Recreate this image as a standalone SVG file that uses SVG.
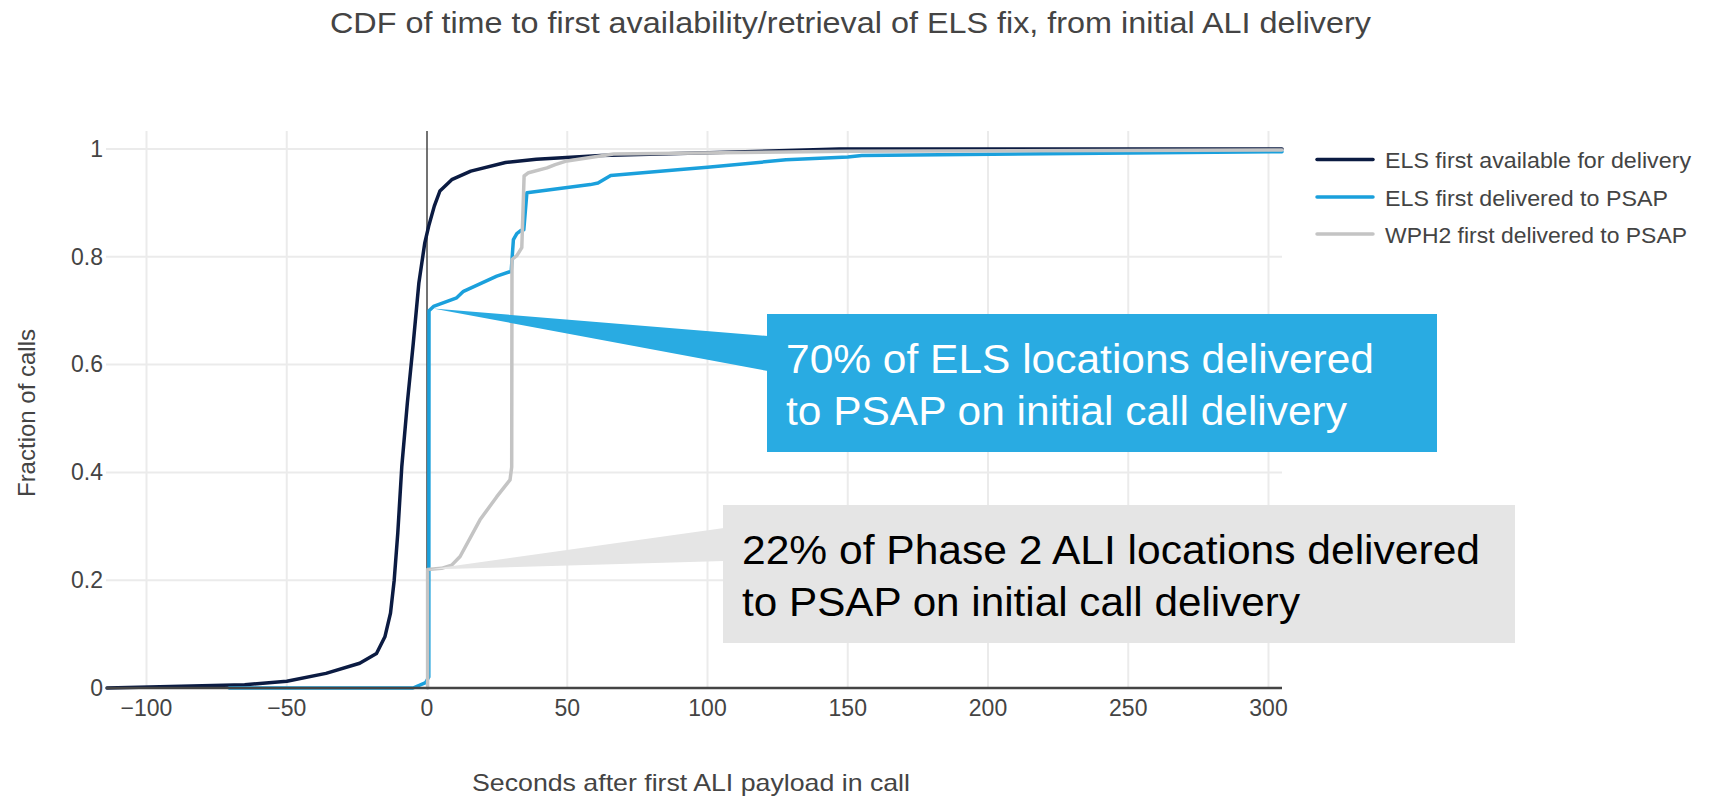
<svg xmlns="http://www.w3.org/2000/svg" width="1709" height="799" viewBox="0 0 1709 799">
<style>
text{font-family:"Liberation Sans",Arial,sans-serif;}
.grid{stroke:#ebebeb;stroke-width:2;fill:none;}
.tick{fill:#444;font-size:23px;}
.ytick{text-anchor:end;}
.xtick{text-anchor:middle;}
.axt{fill:#444;font-size:24px;}
.leg{fill:#444;font-size:22px;}
.cur{fill:none;stroke-width:3.5;stroke-linejoin:round;stroke-linecap:round;}
.dark{stroke:#0b1b42;}
.blue{stroke:#1aa0dc;}
.gray{stroke:#c4c4c4;}
.call{font-size:40px;}
</style>
<rect width="1709" height="799" fill="#ffffff"/>
<g id="title">
<text x="330" y="33" font-size="30" fill="#444" textLength="1041" lengthAdjust="spacingAndGlyphs">CDF of time to first availability/retrieval of ELS fix, from initial ALI delivery</text>
</g>
<g id="grid">
<path class="grid" d="M146.5 131V688M286.75 131V688M567.25 131V688M707.5 131V688M847.75 131V688M988 131V688M1128.25 131V688M1268.5 131V688"/>
<path class="grid" d="M106 580.2H1282M106 472.4H1282M106 364.6H1282M106 256.8H1282M106 149H1282"/>
<line x1="427" y1="131" x2="427" y2="688" stroke="#444" stroke-width="1.5"/>
</g>
<g id="axes">
<g class="tick ytick">
<text x="103" y="696">0</text>
<text x="103" y="588">0.2</text>
<text x="103" y="480">0.4</text>
<text x="103" y="372">0.6</text>
<text x="103" y="265">0.8</text>
<text x="103" y="157">1</text>
</g>
<g class="tick xtick">
<text x="146.5" y="716">−100</text>
<text x="286.75" y="716">−50</text>
<text x="427" y="716">0</text>
<text x="567.25" y="716">50</text>
<text x="707.5" y="716">100</text>
<text x="847.75" y="716">150</text>
<text x="988" y="716">200</text>
<text x="1128.25" y="716">250</text>
<text x="1268.5" y="716">300</text>
</g>
<text class="axt" transform="translate(35 413) rotate(-90)" text-anchor="middle" font-size="27.5">Fraction of calls</text>
<text class="axt" x="472" y="791" font-size="25" textLength="438" lengthAdjust="spacingAndGlyphs">Seconds after first ALI payload in call</text>
</g>
<g id="series">
<path id="els-available" class="cur dark" d="M107 688L244.7 684.8L286.8 681.2L326 673.4L359.7 663.2L376.5 653.5L384.9 636.8L390.5 613.1L394.2 580.2L397.8 532.8L401.8 466.5L407.4 402.3L413.3 343L418.9 282.7L424.8 242.8L428.7 226.1L434.3 206.1L439.9 191L451.7 179.7L470.8 171.1L505.5 162.5L536.4 159.2L600.9 155.5L707.5 152.8L839.3 149L1282 149"/>
<path id="els-delivered" class="cur blue" d="M229.2 688L413 688L425.6 682.6L428.8 677L429 310.7L433.5 306.4L456.7 297.8L463.5 291.3L496.8 276.2L511.2 271.3L513.4 239.6L516.8 233.6L521 230.4L523.8 229.8L526.9 192.7L590.3 184.6L598 183L610.7 175.4L680.6 169.5L707.5 167.3L786 159.8L847.8 157.1L861.8 155.5L1282 151.7"/>
<path id="wph2-delivered" class="cur gray" d="M427.6 688L427.6 569.4L441.6 568.3L451.7 565.1L460.1 556.5L480 519.8L496.8 496.7L510 479.9L511.7 467L512 259.5L516.8 255.7L521.8 247.6L524.1 176L528.5 172.7L547 167.9L555.2 164.6L567 160.9L613.5 153.9L679.5 153.3L847.8 151.2L1282 150"/>
<line x1="106" y1="688" x2="1282" y2="688" stroke="#444" stroke-width="2.5"/>
</g>
<g id="legend">
<line class="cur dark" x1="1317" y1="159.5" x2="1373" y2="159.5" stroke-linecap="butt"/>
<line class="cur blue" x1="1317" y1="197" x2="1373" y2="197" stroke-linecap="butt"/>
<line class="cur gray" x1="1317" y1="234" x2="1373" y2="234" stroke-linecap="butt"/>
<text class="leg" x="1385" y="168" textLength="306" lengthAdjust="spacingAndGlyphs">ELS first available for delivery</text>
<text class="leg" x="1385" y="206" textLength="283" lengthAdjust="spacingAndGlyphs">ELS first delivered to PSAP</text>
<text class="leg" x="1385" y="243" textLength="302" lengthAdjust="spacingAndGlyphs">WPH2 first delivered to PSAP</text>
</g>
<g id="callout-els">
<polygon points="433,308.5 768,336 768,371" fill="#29abe2"/>
<rect x="767" y="314" width="670" height="138" fill="#29abe2"/>
<text class="call" x="786" y="373" fill="#ffffff" textLength="588" lengthAdjust="spacingAndGlyphs">70% of ELS locations delivered</text>
<text class="call" x="786" y="425" fill="#ffffff" textLength="561" lengthAdjust="spacingAndGlyphs">to PSAP on initial call delivery</text>
</g>
<g id="callout-wph2">
<polygon points="428,569.5 724,528 724,561" fill="#e5e5e5"/>
<rect x="723" y="505" width="792" height="138" fill="#e5e5e5"/>
<text class="call" x="742" y="564" fill="#000000" textLength="738" lengthAdjust="spacingAndGlyphs">22% of Phase 2 ALI locations delivered</text>
<text class="call" x="742" y="616" fill="#000000" textLength="558" lengthAdjust="spacingAndGlyphs">to PSAP on initial call delivery</text>
</g>
</svg>
